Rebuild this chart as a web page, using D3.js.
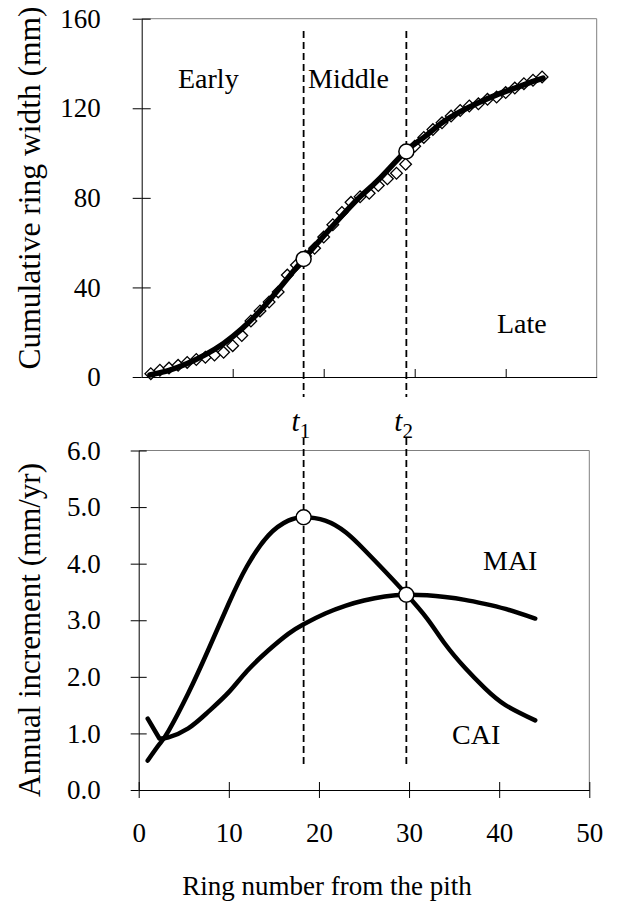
<!DOCTYPE html>
<html>
<head>
<meta charset="utf-8">
<script src="https://cdn.jsdelivr.net/npm/d3@7"></script>
<style>
    body { margin: 0; background: #fff; }
    svg text { font-family: "Liberation Serif", "Times New Roman", serif; fill: #000; }
</style>
</head>
<body>
<div id="chart"></div>
<script>
// observed cumulative ring width (diamonds), one per ring
var ringNo = [1, 2, 3, 4, 5, 6, 7, 8, 9, 10, 11, 12, 13, 14, 15, 16, 17, 18, 19, 20, 21, 22,
    23, 24, 25, 26, 27, 28, 29, 30, 31, 32, 33, 34, 35, 36, 37, 38, 39, 40, 41, 42, 43, 44];
var cumWidth = [1.5, 3.0, 4.0, 5.2, 6.5, 7.8, 8.8, 9.8, 11.0, 14.0, 18.5, 25.0, 29.5, 33.5, 38.0, 45.5,
    50.0, 54.0, 57.5, 62.5, 68.0, 73.5, 78.0, 80.5, 82.0, 85.5, 88.5, 91.0, 95.0, 103.0, 107.0, 110.5,
    113.5, 116.5, 119.0, 121.0, 122.0, 124.0, 125.0, 127.0, 129.0, 131.0, 132.5, 134.0];

// fitted growth curve (top panel)
var fitRing = [0.9, 3, 5, 7, 9, 11, 13, 15, 17.8, 20, 22, 24, 26, 29, 31, 33, 35, 37, 39, 41, 43, 44.1];
var fitWidth = [0.9, 3.0, 6.0, 10.0, 15.0, 21.5, 29.5, 39.0, 52.7, 63.0, 72.0, 80.5, 88.0, 100.7,
    107.0, 113.5, 118.5, 122.5, 126.0, 129.0, 132.0, 133.5];

// annual increments (bottom panel)
var incRing = [1, 2.3, 3.3, 5.5, 7.7, 10, 12, 14.4, 16.6, 18.3, 20.7, 23, 25, 27.3, 29.7, 32, 34, 36.2, 38.4, 40.7, 44];
var cai = [0.52, 0.81, 1.04, 1.71, 2.47, 3.30, 3.95, 4.50, 4.76, 4.82, 4.76, 4.55, 4.25, 3.87, 3.46,
    3.03, 2.58, 2.16, 1.80, 1.50, 1.23];
var mai = [1.26, 0.91, 0.93, 1.09, 1.38, 1.73, 2.10, 2.47, 2.76, 2.93, 3.12, 3.26, 3.35, 3.42, 3.45,
    3.44, 3.41, 3.36, 3.29, 3.20, 3.03];

// transition points t1, t2
var tRing = [18.3, 29.7];
var tWidth = [52.7, 100.7];
var tInc = [4.82, 3.45];
var tSub = ["1", "2"];

var yTicksTop = [0, 40, 80, 120, 160];
var yTicksBottom = [0, 1, 2, 3, 4, 5, 6];
var xTicks = [0, 10, 20, 30, 40, 50];

var W = 618, H = 904;
var svg = d3.select("#chart").append("svg").attr("width", W).attr("height", H);

var xTop = d3.scaleLinear().domain([0, 50]).range([141.7, 596.7]),
    yTop = d3.scaleLinear().domain([0, 160]).range([377, 18.7]),
    xBot = d3.scaleLinear().domain([0, 50]).range([138.7, 589.3]),
    yBot = d3.scaleLinear().domain([0, 6]).range([790, 450.5]);

var tickFont = 27;

// ---- frames (grey top/right edges)
function frame(x, y) {
    var g = svg.append("g");
    g.append("line").attr("x1", x.range()[0]).attr("x2", x.range()[1])
        .attr("y1", y.range()[1]).attr("y2", y.range()[1]).attr("stroke", "#808080");
    g.append("line").attr("x1", x.range()[1]).attr("x2", x.range()[1])
        .attr("y1", y.range()[1]).attr("y2", y.range()[0]).attr("stroke", "#808080");
    return g;
}
frame(xTop, yTop);
frame(xBot, yBot);

// ---- top panel axes
var gyTop = svg.append("g").attr("transform", "translate(" + xTop.range()[0] + ",0)")
    .call(d3.axisLeft(yTop).tickValues(yTicksTop).tickSizeInner(9).tickSizeOuter(0).tickPadding(32));
gyTop.selectAll(".tick").append("line").attr("x2", 9).attr("stroke", "#000");

var gxTop = svg.append("g").attr("transform", "translate(0," + yTop.range()[0] + ")")
    .call(d3.axisTop(xTop).tickValues(xTicks.slice(1, 5)).tickSize(8).tickSizeOuter(0).tickFormat(""));

// ---- bottom panel axes
var gyBot = svg.append("g").attr("transform", "translate(" + xBot.range()[0] + ",0)")
    .call(d3.axisLeft(yBot).tickValues(yTicksBottom).tickSizeInner(8).tickSizeOuter(0).tickPadding(30)
        .tickFormat(d3.format(".1f")));
gyBot.selectAll(".tick").append("line").attr("x2", 8).attr("stroke", "#000");

var gxBot = svg.append("g").attr("transform", "translate(0," + yBot.range()[0] + ")")
    .call(d3.axisBottom(xBot).tickValues(xTicks).tickSizeInner(8).tickSizeOuter(0).tickPadding(25));
gxBot.selectAll(".tick").append("line").attr("y2", -8).attr("stroke", "#000");

[gyTop, gxTop, gyBot, gxBot].forEach(function (g) {
    g.attr("font-family", null).attr("font-size", null);
    g.select(".domain").attr("stroke", "#000");
    g.selectAll("text").style("font-size", tickFont + "px");
});

// ---- axis titles
svg.append("text").attr("transform", "translate(40,188) rotate(-90)")
    .attr("text-anchor", "middle").style("font-size", "31.5px").text("Cumulative ring width (mm)");
svg.append("text").attr("transform", "translate(40,630) rotate(-90)")
    .attr("text-anchor", "middle").style("font-size", "31px").text("Annual increment (mm/yr)");
svg.append("text").attr("x", 327).attr("y", 895)
    .attr("text-anchor", "middle").style("font-size", "27px").text("Ring number from the pith");

// ---- dashed t lines
tRing.forEach(function (t, i) {
    var x = xBot(t);
    svg.append("line").attr("x1", x).attr("x2", x).attr("y1", 31).attr("y2", 397)
        .attr("stroke", "#000").attr("stroke-width", 1.8).attr("stroke-dasharray", "7,4");
    svg.append("line").attr("x1", x).attr("x2", x).attr("y1", 438).attr("y2", 768)
        .attr("stroke", "#000").attr("stroke-width", 1.8).attr("stroke-dasharray", "7,4");
    var lbl = svg.append("text").attr("x", x - 12).attr("y", 431).style("font-size", "29px");
    lbl.append("tspan").style("font-style", "italic").text("t");
    lbl.append("tspan").attr("dy", 7).style("font-size", "21px").text(tSub[i]);
});

// ---- top panel: diamonds + fitted curve
svg.append("g").selectAll("path").data(ringNo).join("path")
    .attr("d", d3.symbol(d3.symbolSquare, 68))
    .attr("transform", function (d, i) { return "translate(" + xTop(d) + "," + yTop(cumWidth[i]) + ") rotate(45)"; })
    .attr("fill", "#fff").attr("stroke", "#000").attr("stroke-width", 1.3);

var fitLine = d3.line().x(function (d) { return xTop(d); }).y(function (d, i) { return yTop(fitWidth[i]); })
    .curve(d3.curveNatural);
svg.append("path").attr("d", fitLine(fitRing)).attr("fill", "none").attr("stroke", "#000")
    .attr("stroke-width", 5.5).attr("stroke-linecap", "round");

svg.append("g").selectAll("circle").data(tRing).join("circle")
    .attr("cx", function (d) { return xBot(d); }).attr("cy", function (d, i) { return yTop(tWidth[i]); })
    .attr("r", 7.5).attr("fill", "#fff").attr("stroke", "#000").attr("stroke-width", 1.5);

// ---- bottom panel: CAI and MAI
var caiLine = d3.line().x(function (d) { return xBot(d); }).y(function (d, i) { return yBot(cai[i]); })
    .curve(d3.curveNatural);
svg.append("path").attr("d", caiLine(incRing)).attr("fill", "none").attr("stroke", "#000")
    .attr("stroke-width", 4.5).attr("stroke-linecap", "round");

// MAI: sharp drop over the first rings, then a smooth spline
var maiLine = d3.line().x(function (d) { return xBot(d[0]); }).y(function (d) { return yBot(d[1]); })
    .curve(d3.curveNatural);
var maiPts = incRing.map(function (r, i) { return [r, mai[i]]; });
var maiPath = "M" + xBot(maiPts[0][0]) + "," + yBot(maiPts[0][1]) + "L" + maiLine(maiPts.slice(1)).slice(1);
svg.append("path").attr("d", maiPath).attr("fill", "none").attr("stroke", "#000")
    .attr("stroke-width", 4.5).attr("stroke-linecap", "round").attr("stroke-linejoin", "round");

svg.append("g").selectAll("circle").data(tRing).join("circle")
    .attr("cx", function (d) { return xBot(d); }).attr("cy", function (d, i) { return yBot(tInc[i]); })
    .attr("r", 7.5).attr("fill", "#fff").attr("stroke", "#000").attr("stroke-width", 1.5);

// ---- labels
var labels = [["Early", 178, 88], ["Middle", 308, 88], ["Late", 497, 333], ["MAI", 483, 570], ["CAI", 452, 744]];
svg.append("g").selectAll("text").data(labels).join("text")
    .attr("x", function (d) { return d[1]; }).attr("y", function (d) { return d[2]; })
    .style("font-size", "28px").text(function (d) { return d[0]; });
</script>
</body>
</html>
